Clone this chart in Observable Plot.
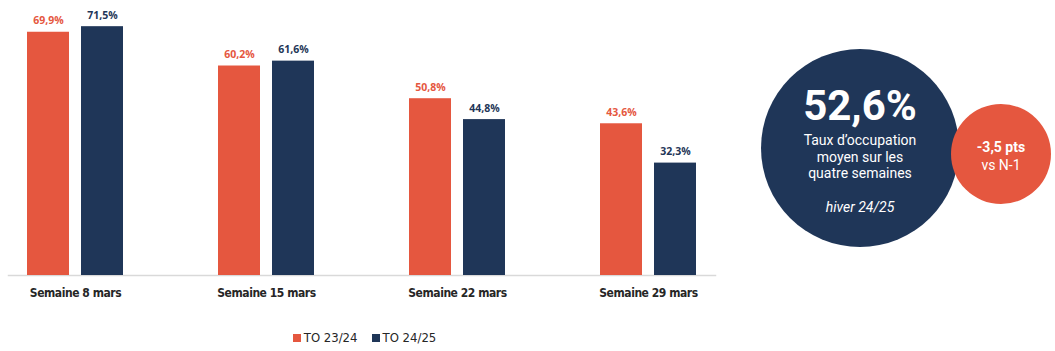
<!DOCTYPE html>
<html>
<head>
<meta charset="utf-8">
<script src="https://cdn.jsdelivr.net/npm/d3@7"></script>
<script src="https://cdn.jsdelivr.net/npm/@observablehq/plot@0.6"></script>
<style>
  html, body { margin: 0; padding: 0; background: #ffffff; }
  #wrap { position: relative; width: 1055px; height: 351px; overflow: hidden; font-family: Roboto, "Liberation Sans", sans-serif; }
  #chart { position: absolute; left: 0; top: 0; }
  #legend { position: absolute; left: -8px; width: 745px; top: 330px; display: flex; justify-content: center; gap: 14px;
            font-family: "DejaVu Sans Condensed", "Liberation Sans Narrow", sans-serif; font-size: 13px; color: #262626; }
  .li { display: flex; align-items: center; gap: 3px; }
  .sw { width: 8px; height: 8px; display: inline-block; }
  .circle { position: absolute; border-radius: 50%; }
  .ct { position: absolute; left: 0; right: 0; text-align: center; color: #ffffff; white-space: nowrap; line-height: 1; }
  .fxlab text { letter-spacing: -0.45px; }
</style>
</head>
<body>
<div id="wrap">
  <div id="chart"></div>
  <div id="legend"></div>
  <div id="big" class="circle"></div>
  <div id="small" class="circle"></div>
</div>
<script>
const weeks = ["Semaine 8 mars", "Semaine 15 mars", "Semaine 22 mars", "Semaine 29 mars"];
const series = ["TO 23/24", "TO 24/25"];
const to2324 = [69.9, 60.2, 50.8, 43.6];
const to2425 = [71.5, 61.6, 44.8, 32.3];
const colors = ["#E5573F", "#1F3658"];
const averageRate = [52.6];
const deltaPts = [-3.5];
const avgLines = ["Taux d\u2019occupation", "moyen sur les", "quatre semaines"];
const seasonLabel = ["hiver 24/25"];
const deltaLabel = ["vs N-1"];

const fmt = v => v.toFixed(1).replace(".", ",") + "%";

const data = weeks.flatMap((w, i) => [
  {week: w, series: series[0], value: to2324[i]},
  {week: w, series: series[1], value: to2425[i]}
]);

const chart = Plot.plot({
  width: 760,
  height: 310,
  marginLeft: 0,
  marginRight: 15,
  marginTop: 14,
  marginBottom: 35,
  style: {fontFamily: "Roboto, sans-serif", background: "transparent"},
  fx: {domain: weeks, paddingInner: 0.3, paddingOuter: 0.1, align: 0.213, label: null},
  x: {domain: series, paddingInner: 0.222, paddingOuter: 0.349, axis: null},
  y: {domain: [0, 75], axis: null},
  color: {domain: series, range: colors},
  marks: [
    Plot.frame({anchor: "bottom", facet: "super", stroke: "#d9d9d9", strokeWidth: 1.5}),
    Plot.barY(data, {fx: "week", x: "series", y: "value", fill: "series"}),
    Plot.text(data, {fx: "week", x: "series", y: "value", text: d => fmt(d.value), fill: "series",
      dy: -8, lineAnchor: "bottom", fontWeight: "bold", fontSize: 10.5, fontFamily: "\"Open Sans\", sans-serif"}),
    Plot.axisFx({anchor: "bottom", tickSize: 0, tickPadding: 13, fontWeight: "bold", fontSize: 12,
      fill: "#262626", label: null, className: "fxlab",
      fontFamily: "\"DejaVu Sans Condensed\", \"Liberation Sans Narrow\", sans-serif"})
  ]
});
document.getElementById("chart").appendChild(chart);

// legend
const legend = document.getElementById("legend");
series.forEach((s, i) => {
  const it = document.createElement("div");
  it.className = "li";
  it.innerHTML = `<span class="sw" style="background:${colors[i]}"></span><span>${s}</span>`;
  legend.appendChild(it);
});

// big circle
const big = document.getElementById("big");
Object.assign(big.style, {left: "761px", top: "49px", width: "198px", height: "198px", background: colors[1]});
function addText(parent, text, top, size, weight, style) {
  const d = document.createElement("div");
  d.className = "ct";
  d.textContent = text;
  Object.assign(d.style, {top: top + "px", fontSize: size + "px", fontWeight: weight, fontStyle: style || "normal"});
  parent.appendChild(d);
}
addText(big, fmt(averageRate[0]), 36, 42, 700);
avgLines.forEach((t, i) => addText(big, t, 84 + i * 16.5, 14, 400));
addText(big, seasonLabel[0], 151, 14, 400, "italic");

// small circle
const small = document.getElementById("small");
Object.assign(small.style, {left: "951px", top: "104px", width: "100px", height: "100px", background: colors[0]});
addText(small, deltaPts[0].toFixed(1).replace(".", ",") + " pts", 36, 14, 700);
addText(small, deltaLabel[0], 54, 14, 400);
</script>
</body>
</html>
